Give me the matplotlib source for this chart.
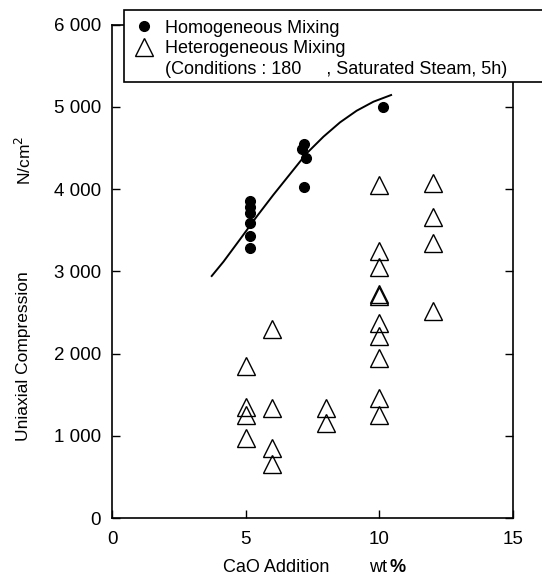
import matplotlib
matplotlib.use("Agg")
from matplotlib import pyplot as plt
from matplotlib.lines import Line2D
from matplotlib.patches import Rectangle

plt.rcParams['font.family'] = ['Liberation Sans', 'DejaVu Sans']

# homogeneous mixing (filled circles)
homo_x = [5.18, 5.18, 5.18, 5.18, 5.18, 5.18, 7.19, 7.09, 7.26, 7.19, 10.13]
homo_y = [3860, 3780, 3705, 3585, 3430, 3280, 4545, 4485, 4380, 4030, 5000]

# heterogeneous mixing (open triangles)
hetero_x = [5, 5, 5, 5,
            6, 6, 6, 6,
            8, 8,
            10, 10, 10, 10, 10, 10, 10, 10, 10, 10,
            12, 12, 12, 12]
hetero_y = [1845, 1350, 1255, 975,
            2300, 1340, 850, 665,
            1345, 1160,
            4045, 3245, 3055, 2730, 2700, 2370, 2210, 1945, 1460, 1250,
            4080, 3655, 3340, 2515]

# fitted curve
curve_x = [3.73, 4.17, 4.79, 5.41, 6.03, 6.66, 7.28, 7.91, 8.53, 9.15, 9.78, 10.44]
curve_y = [2944, 3118, 3390, 3665, 3928, 4183, 4434, 4637, 4811, 4952, 5062, 5143]

xticks = [0, 5, 10, 15]
yticks = [0, 1000, 2000, 3000, 4000, 5000, 6000]
ytick_labels = ['0', '1 000', '2 000', '3 000', '4 000', '5 000', '6 000']

W, H = 542, 575
fig = plt.figure(figsize=(W / 100, H / 100), dpi=100)
ax = fig.add_axes([112 / W, 1 - 518.3 / H, (513 - 112) / W, (518.3 - 24.5) / H])

ax.plot(curve_x, curve_y, color='black', lw=1.4, zorder=2)
ax.plot(hetero_x, hetero_y, linestyle='none', marker='^', ms=13,
        mfc='none', mec='black', mew=1.0, zorder=3)
ax.plot(homo_x, homo_y, linestyle='none', marker='o', ms=7,
        mfc='black', mec='black', zorder=4)

ax.set_xlim(0, 15)
ax.set_ylim(0, 6000)
ax.set_xticks(xticks)
ax.set_xticklabels([str(v) for v in xticks])
ax.set_yticks(yticks)
ax.set_yticklabels(ytick_labels)
ax.tick_params(direction='in', length=6, width=1, labelsize=13.5, pad=8,
               top=False, right=True)
ax.tick_params(axis='x', pad=9)
for s in ax.spines.values():
    s.set_linewidth(1.2)

# y axis labels
fig.text(24 / W, 1 - 356 / H, 'Uniaxial Compression', rotation=90,
         ha='center', va='center', fontsize=12.5)
fig.text(24 / W, 1 - 160 / H, 'N/cm$^2$', rotation=90,
         ha='center', va='center', fontsize=12.5)

# x axis labels
fig.text(276 / W, 1 - 572 / H, 'CaO Addition', ha='center', va='baseline', fontsize=13)
fig.text(369 / W, 1 - 572 / H, 'wt', ha='left', va='baseline', fontsize=13)
fig.text(389 / W, 1 - 572 / H, '%', ha='left', va='baseline', fontsize=13,
         fontweight='bold')

# legend box running off the right edge
box = Rectangle((124 / W, 1 - 81.7 / H), (600 - 124) / W, (81.7 - 9.5) / H,
                transform=fig.transFigure, facecolor='white', edgecolor='black',
                lw=1.2, zorder=5)
fig.add_artist(box)

handles = [
    Line2D([], [], linestyle='none', marker='o', ms=7, mfc='black', mec='black'),
    Line2D([], [], linestyle='none', marker='^', ms=13, mfc='none', mec='black'),
    Line2D([], [], linestyle='none'),
]
labels = ['Homogeneous Mixing', 'Heterogeneous Mixing',
          '(Conditions : 180     , Saturated Steam, 5h)']
leg = fig.legend(handles, labels, loc='upper left',
                 bbox_to_anchor=(122 / W, 1 - 7 / H), frameon=False,
                 fontsize=13, handlelength=1.0, handletextpad=0.7,
                 labelspacing=0.2, borderpad=0.2)
leg.set_zorder(6)

fig.savefig('out.png', dpi=100)
